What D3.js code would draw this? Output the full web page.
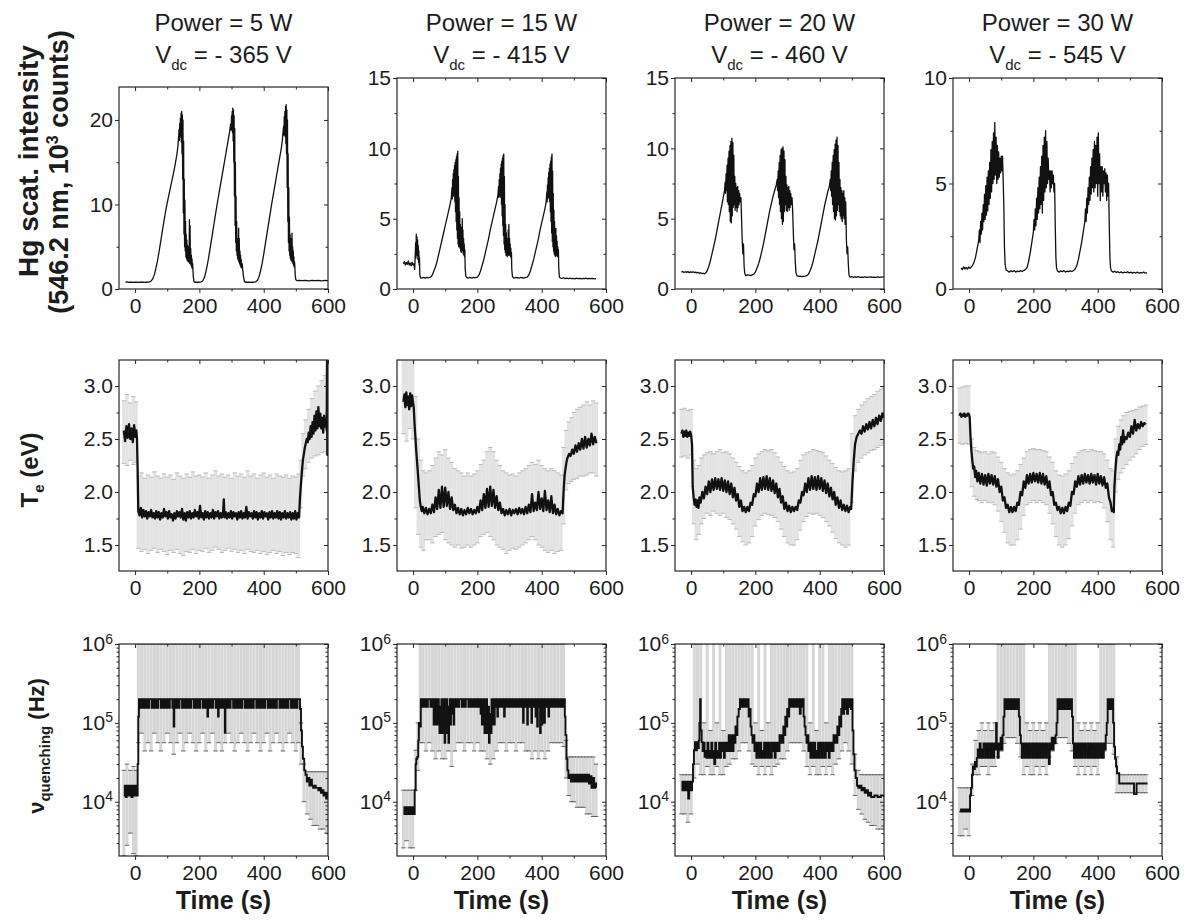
<!DOCTYPE html>
<html>
<head>
<meta charset="utf-8">
<script src="https://cdn.jsdelivr.net/npm/d3@7"></script>
<style>
  body { margin: 0; background: #fff; }
  svg text { font-family: "Liberation Sans", Arial, sans-serif; fill: #1c1c1c; }
</style>
</head>
<body>
<svg id="fig" width="1188" height="922"></svg>
<script>
// ---------- labels ----------
const powerTitles = ["Power = 5 W", "Power = 15 W", "Power = 20 W", "Power = 30 W"];
const vdcTitles = [" = - 365 V", " = - 415 V", " = - 460 V", " = - 545 V"];
const xTickValues = [0, 200, 400, 600];
const xMinorValues = [100, 300, 500];

// ---------- row 1: Hg scattered intensity (10^3 counts) ----------
const intensityMax = [23.9, 15, 15, 10];
const intensityTicks = [[0, 10, 20], [0, 5, 10, 15], [0, 5, 10, 15], [0, 5, 10]];
const intensityMinor = [[5, 15], [2.5, 7.5, 12.5], [2.5, 7.5, 12.5], [2.5, 7.5]];

const intensity5W = [[-30,0.8],[-25,0.85],[-20,0.78],[-15,0.82],[-10,0.8],[-5,0.78],[0,0.82],[5,0.8],[10,0.78],[15,0.8],[20,0.82],[25,0.8],[30,0.78],[35,0.8],[40,0.82],[45,0.85],[50,0.95],[55,1.2],[60,1.7],[65,2.5],[70,3.4],[75,4.5],[80,5.7],[85,6.9],[90,8.1],[95,9.2],[100,10.2],[105,11.1],[110,12.0],[115,12.9],[120,13.8],[125,14.8],[130,15.9],[133,16.8],[135,17.8],[137,18.9],[138,17.6],[139,19.6],[140,18.2],[141,20.2],[142,18.0],[143,20.8],[144,17.4],[145,21.0],[146,16.0],[147,20.6],[148,13.0],[149,20.0],[150,9.0],[151,17.5],[152,6.5],[153,13.0],[154,5.0],[155,10.5],[156,4.5],[157,8.0],[158,3.8],[159,6.5],[160,3.6],[161,5.8],[162,3.4],[163,5.2],[164,3.3],[165,4.8],[166,3.2],[167,5.0],[168,3.4],[169,8.2],[170,3.0],[171,7.5],[172,3.2],[173,4.8],[174,2.8],[175,4.0],[176,2.6],[177,3.6],[178,2.4],[179,3.0],[181,1.5],[183,0.9],[186,0.8],[190,0.8],[195,0.82],[200,0.8],[205,0.85],[210,0.95],[215,1.3],[220,2.0],[225,2.9],[230,4.0],[235,5.2],[240,6.4],[245,7.6],[250,8.8],[255,10.0],[260,11.1],[265,12.2],[270,13.3],[275,14.4],[280,15.5],[285,16.6],[290,17.7],[294,18.6],[297,19.5],[299,18.8],[300,20.5],[301,19.0],[302,21.0],[303,18.5],[304,21.4],[305,17.5],[306,21.2],[307,15.0],[308,20.5],[309,11.0],[310,19.0],[311,7.5],[312,15.0],[313,5.5],[314,11.0],[315,4.5],[316,8.0],[317,4.0],[318,6.0],[319,3.6],[320,5.2],[321,3.4],[322,7.2],[323,3.2],[324,6.0],[325,3.0],[326,4.5],[327,2.8],[328,4.0],[329,2.6],[330,3.5],[331,2.5],[333,3.0],[335,2.2],[337,1.5],[340,0.9],[343,0.8],[350,0.8],[355,0.82],[360,0.78],[365,0.8],[370,0.82],[375,0.85],[380,1.0],[385,1.4],[390,2.1],[395,3.0],[400,4.1],[405,5.3],[410,6.5],[415,7.7],[420,8.9],[425,10.1],[430,11.2],[435,12.3],[440,13.4],[445,14.5],[450,15.6],[455,16.7],[458,17.6],[460,18.5],[462,19.3],[463,18.2],[464,20.4],[465,18.8],[466,21.0],[467,18.0],[468,21.6],[469,17.2],[470,21.8],[471,16.0],[472,21.2],[473,12.0],[474,20.0],[475,8.0],[476,16.0],[477,5.5],[478,12.0],[479,4.5],[480,8.5],[481,4.0],[482,6.5],[483,3.6],[484,5.5],[485,3.4],[486,6.0],[487,3.3],[488,6.6],[489,3.2],[490,5.0],[491,3.0],[492,4.5],[493,2.8],[494,3.8],[495,2.6],[496,3.2],[497,2.6],[498,1.6],[500,1.1],[503,1.0],[510,1.02],[520,0.98],[530,1.03],[540,0.97],[550,1.02],[560,0.98],[570,1.03],[580,0.97],[590,1.01],[600,0.98]];

const intensity15W = [[-30,1.8],[-27,1.95],[-24,1.7],[-21,1.9],[-18,1.75],[-15,2.0],[-12,1.7],[-9,1.85],[-6,1.65],[-3,1.9],[0,1.7],[3,1.8],[5,1.4],[7,2.6],[8,3.3],[9,2.2],[10,3.9],[11,2.6],[12,3.7],[13,2.4],[14,3.5],[15,2.1],[16,3.1],[17,1.9],[18,2.7],[19,1.7],[20,2.2],[21,1.0],[23,0.8],[27,0.78],[31,0.82],[35,0.8],[39,0.78],[43,0.82],[47,0.8],[51,0.82],[55,0.85],[60,1.0],[65,1.3],[70,1.6],[75,2.0],[80,2.5],[85,3.0],[90,3.5],[95,4.0],[100,4.5],[105,5.0],[110,5.5],[115,6.0],[119,6.5],[121,7.2],[122,6.4],[123,7.8],[124,6.6],[125,8.2],[126,6.8],[127,8.5],[128,6.6],[129,8.8],[130,6.2],[131,9.0],[132,5.5],[133,9.2],[134,4.8],[135,9.4],[136,4.2],[137,9.6],[138,3.6],[139,9.8],[140,3.2],[141,8.0],[142,3.0],[143,6.5],[144,3.2],[145,5.5],[146,2.9],[147,4.6],[148,2.7],[149,4.0],[150,2.6],[151,4.4],[152,2.8],[153,5.0],[154,2.7],[155,4.2],[156,2.5],[157,3.6],[158,2.4],[159,3.2],[160,2.3],[161,2.8],[162,1.5],[164,0.9],[168,0.8],[172,0.78],[176,0.82],[180,0.8],[184,0.78],[188,0.82],[192,0.8],[196,0.82],[200,0.85],[205,1.0],[210,1.3],[215,1.7],[220,2.1],[225,2.6],[230,3.1],[235,3.6],[240,4.2],[245,4.7],[250,5.2],[255,5.7],[260,6.2],[264,6.7],[266,7.3],[267,6.5],[268,7.8],[269,6.6],[270,8.2],[271,6.8],[272,8.6],[273,6.5],[274,8.9],[275,6.0],[276,9.1],[277,5.2],[278,9.3],[279,4.5],[280,9.5],[281,3.8],[282,9.6],[283,3.2],[284,8.0],[285,2.8],[286,6.0],[287,2.6],[288,4.6],[289,2.4],[290,4.0],[291,2.5],[292,3.6],[293,2.3],[294,3.4],[295,2.5],[296,4.2],[297,2.4],[298,4.6],[299,2.6],[300,3.6],[301,2.4],[302,3.2],[303,2.3],[304,2.9],[305,2.2],[306,2.6],[307,1.4],[309,0.9],[312,0.8],[316,0.78],[320,0.82],[325,0.8],[330,0.78],[335,0.82],[340,0.8],[345,0.78],[350,0.82],[355,0.85],[360,1.0],[365,1.3],[370,1.7],[375,2.1],[380,2.6],[385,3.1],[390,3.6],[395,4.2],[400,4.7],[405,5.2],[410,5.7],[414,6.2],[416,6.9],[417,6.2],[418,7.4],[419,6.4],[420,7.9],[421,6.6],[422,8.3],[423,6.5],[424,8.6],[425,6.2],[426,8.9],[427,5.5],[428,9.1],[429,4.8],[430,9.4],[431,4.0],[432,9.6],[433,3.4],[434,8.4],[435,3.0],[436,6.8],[437,2.7],[438,5.6],[439,2.5],[440,4.8],[441,2.4],[442,4.0],[443,2.3],[444,4.3],[445,2.5],[446,3.8],[447,2.4],[448,3.4],[449,2.3],[450,3.0],[451,2.4],[452,2.8],[453,1.5],[455,0.85],[458,0.78],[463,0.76],[468,0.8],[473,0.74],[478,0.77],[483,0.73],[488,0.78],[493,0.74],[498,0.76],[503,0.72],[508,0.77],[513,0.74],[518,0.76],[523,0.72],[528,0.75],[533,0.73],[538,0.77],[543,0.72],[548,0.75],[553,0.73],[558,0.76],[563,0.72],[569,0.74]];

const intensity20W = [[-30,1.2],[-26,1.25],[-22,1.17],[-18,1.23],[-14,1.18],[-10,1.24],[-6,1.16],[-2,1.22],[2,1.18],[6,1.23],[10,1.17],[14,1.2],[18,1.15],[22,1.18],[26,1.12],[30,1.14],[34,1.1],[38,1.12],[42,1.08],[46,1.15],[50,1.3],[55,1.6],[60,2.0],[65,2.5],[70,3.0],[75,3.5],[80,4.1],[85,4.7],[90,5.3],[95,5.9],[100,6.5],[104,7.0],[106,7.6],[107,6.8],[109,8.2],[110,7.0],[112,8.8],[113,6.2],[115,9.3],[116,6.0],[118,9.8],[119,5.5],[121,10.2],[122,4.8],[124,10.5],[125,4.7],[127,10.7],[128,5.2],[130,10.4],[131,5.8],[133,9.5],[134,6.0],[136,8.0],[137,5.6],[139,7.5],[140,5.8],[142,7.2],[143,5.5],[145,7.3],[146,5.8],[148,7.0],[149,6.0],[151,6.8],[153,6.2],[155,6.5],[157,5.0],[159,3.5],[161,2.5],[163,3.2],[165,1.6],[167,1.1],[170,0.95],[175,1.0],[180,0.98],[185,0.95],[190,1.0],[195,1.05],[200,1.2],[205,1.5],[210,1.8],[215,2.2],[220,2.7],[225,3.2],[230,3.8],[235,4.4],[240,5.0],[245,5.6],[250,6.1],[255,6.6],[260,7.0],[265,7.4],[268,7.8],[269,7.0],[271,8.4],[272,6.5],[274,9.0],[275,6.0],[277,9.5],[278,5.5],[280,9.9],[281,5.0],[283,10.0],[284,4.6],[286,10.1],[287,4.8],[289,9.8],[290,5.5],[292,9.2],[293,6.0],[295,8.0],[296,5.6],[298,7.4],[299,5.5],[301,7.2],[302,5.8],[304,7.3],[305,5.6],[307,7.0],[308,5.8],[310,6.8],[312,6.0],[314,6.5],[316,5.5],[318,4.0],[320,2.8],[322,3.2],[324,2.0],[326,1.2],[329,0.95],[335,0.9],[340,0.92],[345,0.88],[350,0.9],[355,0.92],[360,0.95],[365,1.05],[370,1.3],[375,1.6],[380,2.0],[385,2.5],[390,3.0],[395,3.5],[400,4.1],[405,4.7],[410,5.3],[415,5.9],[420,6.4],[425,6.9],[430,7.3],[433,7.8],[434,7.0],[436,8.4],[437,6.6],[439,9.0],[440,6.0],[442,9.5],[443,5.5],[445,9.9],[446,5.0],[448,10.3],[449,4.9],[451,10.6],[452,5.2],[454,10.8],[455,5.6],[457,10.2],[458,6.0],[460,9.0],[461,5.5],[463,7.8],[464,5.2],[466,7.2],[467,5.0],[469,7.0],[470,4.8],[472,6.8],[473,5.2],[475,7.0],[476,5.0],[478,6.5],[479,4.6],[481,6.2],[483,3.5],[485,2.5],[487,3.0],[489,1.8],[491,1.0],[494,0.85],[500,0.88],[505,0.82],[510,0.86],[515,0.84],[520,0.88],[525,0.82],[530,0.85],[535,0.83],[540,0.87],[545,0.82],[550,0.85],[555,0.84],[560,0.86],[565,0.82],[570,0.85],[575,0.83],[580,0.86],[585,0.82],[590,0.85],[595,0.84],[600,0.86]];

const intensity30W = [[-25,1.0],[-21,0.92],[-17,1.05],[-13,0.95],[-9,1.02],[-5,0.94],[-1,1.04],[3,0.98],[7,1.05],[10,1.1],[15,1.25],[20,1.5],[25,1.9],[30,2.3],[32,2.8],[34,2.2],[36,3.2],[38,2.6],[40,3.6],[42,2.8],[44,4.0],[46,3.2],[48,4.5],[50,3.3],[52,4.9],[54,3.5],[56,5.3],[58,3.7],[60,5.6],[62,4.0],[64,6.0],[66,4.3],[68,6.6],[70,4.6],[72,7.0],[74,5.0],[76,7.4],[78,5.2],[80,7.9],[82,5.4],[84,7.2],[86,5.0],[88,6.8],[90,5.2],[92,6.5],[94,5.3],[96,6.2],[98,5.5],[100,6.3],[102,5.6],[104,6.3],[106,5.2],[108,4.0],[110,2.0],[112,1.2],[115,0.9],[120,0.85],[125,0.8],[130,0.86],[135,0.82],[140,0.88],[145,0.8],[150,0.85],[155,0.82],[160,0.87],[165,0.83],[170,0.88],[175,0.92],[180,1.0],[185,1.3],[190,1.7],[195,2.2],[200,2.7],[202,3.3],[204,2.8],[206,3.8],[208,3.0],[210,4.3],[212,3.3],[214,4.8],[216,3.6],[218,5.3],[220,3.8],[222,5.8],[224,4.0],[226,6.3],[228,3.6],[230,6.8],[232,4.2],[234,7.2],[236,4.6],[238,7.5],[240,4.8],[242,7.0],[244,5.0],[246,6.2],[248,5.2],[250,5.6],[252,4.6],[254,5.6],[256,4.8],[258,5.6],[260,5.0],[262,5.4],[264,4.6],[266,5.0],[268,3.0],[270,1.5],[272,1.0],[275,0.85],[280,0.8],[285,0.86],[290,0.82],[295,0.87],[300,0.8],[305,0.85],[310,0.82],[315,0.86],[320,0.83],[325,0.88],[330,0.95],[335,1.1],[340,1.4],[345,1.8],[350,2.2],[355,2.7],[360,3.2],[362,3.8],[364,3.2],[366,4.3],[368,3.6],[370,4.8],[372,4.0],[374,5.3],[376,4.2],[378,5.8],[380,4.5],[382,6.2],[384,4.8],[386,6.6],[388,4.6],[390,7.0],[392,4.8],[394,6.8],[396,5.0],[398,7.2],[400,4.4],[402,7.4],[404,5.0],[406,6.4],[408,4.2],[410,5.8],[412,4.6],[414,5.8],[416,4.4],[418,5.6],[420,5.0],[422,5.7],[424,4.6],[426,5.5],[428,4.2],[430,5.4],[432,4.4],[434,5.0],[436,3.0],[438,1.5],[440,1.0],[443,0.85],[448,0.8],[453,0.84],[458,0.78],[463,0.82],[468,0.77],[473,0.81],[478,0.76],[483,0.8],[488,0.77],[493,0.82],[498,0.76],[503,0.8],[508,0.75],[513,0.79],[518,0.76],[523,0.8],[528,0.75],[533,0.78],[538,0.76],[543,0.8],[548,0.75],[553,0.78]];

// ---------- row 2: electron temperature (eV) ----------
const teTicks = [1.5, 2.0, 2.5, 3.0];
const teMinor = [1.75, 2.25, 2.75];

const te5W = [[-35,2.58],[-31,2.48],[-27,2.62],[-23,2.51],[-19,2.64],[-15,2.50],[-11,2.60],[-7,2.47],[-3,2.63],[1,2.52],[4,2.58],[6,2.50],[8,2.2],[10,1.82],[14,1.78],[18,1.85],[22,1.76],[26,1.83],[30,1.77],[34,1.82],[38,1.75],[42,1.81],[46,1.77],[50,1.83],[54,1.76],[58,1.80],[62,1.75],[66,1.82],[70,1.76],[74,1.81],[78,1.74],[82,1.80],[86,1.76],[90,1.84],[94,1.77],[98,1.81],[102,1.75],[106,1.82],[110,1.76],[114,1.79],[118,1.73],[122,1.80],[126,1.75],[130,1.82],[134,1.77],[138,1.81],[142,1.76],[146,1.84],[150,1.74],[154,1.80],[158,1.73],[162,1.81],[166,1.76],[170,1.82],[174,1.75],[178,1.80],[182,1.76],[186,1.83],[190,1.77],[194,1.81],[198,1.75],[202,1.87],[206,1.76],[210,1.80],[214,1.74],[218,1.82],[222,1.76],[226,1.81],[230,1.75],[234,1.80],[238,1.76],[242,1.83],[246,1.75],[250,1.81],[254,1.77],[258,1.82],[262,1.75],[266,1.80],[270,1.76],[274,1.82],[276,1.93],[278,1.76],[282,1.81],[286,1.75],[290,1.80],[294,1.76],[298,1.82],[302,1.75],[306,1.81],[310,1.77],[314,1.80],[318,1.74],[322,1.81],[326,1.76],[330,1.82],[334,1.75],[338,1.80],[342,1.76],[346,1.86],[350,1.75],[354,1.81],[358,1.77],[362,1.80],[366,1.75],[370,1.82],[374,1.76],[378,1.81],[382,1.74],[386,1.80],[390,1.76],[394,1.82],[398,1.75],[402,1.81],[406,1.77],[410,1.80],[414,1.74],[418,1.81],[422,1.76],[426,1.82],[430,1.75],[434,1.80],[438,1.76],[442,1.82],[446,1.75],[450,1.81],[454,1.74],[458,1.80],[462,1.76],[466,1.82],[470,1.75],[474,1.80],[478,1.76],[482,1.81],[486,1.74],[490,1.80],[494,1.75],[498,1.82],[502,1.74],[506,1.80],[510,1.76],[513,1.95],[516,2.08],[519,2.2],[522,2.3],[525,2.36],[528,2.42],[531,2.46],[534,2.5],[537,2.47],[540,2.56],[543,2.5],[546,2.62],[549,2.52],[552,2.66],[555,2.55],[558,2.72],[561,2.58],[564,2.76],[567,2.6],[570,2.8],[573,2.62],[576,2.74],[579,2.6],[582,2.7],[585,2.56],[588,2.72],[591,2.62],[594,2.68],[596,2.58],[597,3.25],[598,2.35],[600,2.62]];
const te5WErr = [[-35,2.27,2.86],[-25,2.25,2.92],[-15,2.30,2.84],[-5,2.26,2.90],[3,2.28,2.85],[10,1.47,2.15],[20,1.44,2.18],[30,1.46,2.13],[40,1.42,2.16],[50,1.45,2.14],[60,1.47,2.19],[70,1.43,2.15],[80,1.46,2.13],[90,1.44,2.17],[100,1.41,2.14],[110,1.45,2.16],[120,1.43,2.12],[130,1.46,2.18],[140,1.42,2.15],[150,1.40,2.13],[160,1.44,2.17],[170,1.43,2.14],[180,1.46,2.19],[190,1.42,2.15],[200,1.45,2.16],[210,1.44,2.14],[220,1.47,2.18],[230,1.43,2.13],[240,1.45,2.16],[250,1.48,2.2],[260,1.46,2.15],[270,1.43,2.17],[280,1.45,2.14],[290,1.47,2.16],[300,1.44,2.13],[310,1.46,2.18],[320,1.43,2.15],[330,1.45,2.17],[340,1.42,2.14],[350,1.46,2.2],[360,1.44,2.15],[370,1.43,2.17],[380,1.45,2.13],[390,1.42,2.16],[400,1.44,2.18],[410,1.41,2.14],[420,1.43,2.16],[430,1.45,2.13],[440,1.42,2.17],[450,1.44,2.15],[460,1.40,2.14],[470,1.43,2.16],[480,1.41,2.13],[490,1.43,2.15],[500,1.42,2.14],[508,1.38,2.17],[515,1.85,2.3],[522,2.15,2.55],[530,2.22,2.68],[540,2.28,2.78],[550,2.32,2.88],[560,2.34,2.95],[570,2.35,3.0],[580,2.37,3.05],[590,2.38,3.1],[598,2.36,3.0]];

const te15W = [[-30,2.85],[-27,2.92],[-24,2.80],[-21,2.94],[-18,2.82],[-15,2.90],[-12,2.78],[-9,2.93],[-6,2.81],[-3,2.91],[0,2.84],[2,2.80],[5,2.62],[8,2.48],[10,2.38],[12,2.30],[15,2.18],[18,2.05],[21,1.92],[24,1.86],[27,1.82],[30,1.86],[35,1.80],[40,1.85],[45,1.79],[50,1.84],[55,1.80],[60,1.88],[65,1.81],[70,1.95],[75,1.84],[80,2.02],[85,1.85],[90,2.05],[95,1.86],[100,2.04],[105,1.87],[110,2.00],[115,1.84],[120,1.95],[125,1.83],[130,1.88],[135,1.80],[140,1.85],[145,1.79],[150,1.84],[155,1.78],[160,1.83],[165,1.79],[170,1.85],[175,1.80],[180,1.84],[185,1.79],[190,1.83],[195,1.80],[200,1.86],[205,1.81],[210,1.92],[215,1.83],[220,1.98],[225,1.85],[230,2.03],[235,1.86],[240,2.05],[245,1.87],[250,2.02],[255,1.85],[260,1.96],[265,1.83],[270,1.90],[275,1.80],[280,1.84],[285,1.78],[290,1.83],[295,1.79],[300,1.84],[305,1.78],[310,1.83],[315,1.80],[320,1.84],[325,1.79],[330,1.85],[335,1.80],[340,1.84],[345,1.79],[350,1.86],[355,1.80],[360,1.88],[365,1.81],[370,1.98],[375,1.82],[380,1.90],[385,1.83],[390,2.00],[395,1.84],[400,1.94],[405,1.82],[410,2.01],[415,1.83],[420,1.92],[425,1.81],[430,1.96],[435,1.80],[440,1.88],[445,1.79],[450,1.84],[455,1.78],[460,1.82],[465,1.80],[468,2.0],[471,2.15],[474,2.22],[477,2.28],[480,2.32],[485,2.36],[490,2.34],[495,2.40],[500,2.36],[505,2.44],[510,2.38],[515,2.46],[520,2.40],[525,2.50],[530,2.41],[535,2.52],[540,2.42],[545,2.50],[550,2.44],[555,2.55],[560,2.45],[565,2.52],[570,2.46]];
const te15WErr = [[-30,2.55,3.3],[-20,2.48,3.3],[-10,2.6,3.3],[-1,2.5,3.3],[8,1.85,2.9],[16,1.6,2.5],[24,1.48,2.3],[32,1.45,2.2],[40,1.55,2.18],[50,1.55,2.2],[60,1.52,2.25],[70,1.58,2.32],[80,1.6,2.38],[90,1.62,2.35],[100,1.55,2.4],[110,1.52,2.32],[120,1.5,2.28],[130,1.48,2.22],[140,1.5,2.2],[150,1.47,2.18],[160,1.48,2.15],[170,1.5,2.18],[180,1.48,2.15],[190,1.5,2.17],[200,1.52,2.2],[210,1.58,2.26],[220,1.6,2.3],[230,1.62,2.38],[240,1.58,2.42],[250,1.55,2.38],[260,1.5,2.3],[270,1.48,2.25],[280,1.46,2.2],[290,1.42,2.18],[300,1.45,2.16],[310,1.47,2.17],[320,1.46,2.15],[330,1.48,2.18],[340,1.5,2.2],[350,1.52,2.22],[360,1.55,2.25],[370,1.58,2.28],[380,1.55,2.26],[390,1.5,2.3],[400,1.48,2.25],[410,1.45,2.22],[420,1.43,2.2],[430,1.45,2.22],[440,1.42,2.2],[450,1.44,2.18],[460,1.45,2.16],[468,1.7,2.42],[476,2.02,2.58],[484,2.08,2.66],[492,2.1,2.7],[500,2.12,2.75],[510,2.13,2.78],[520,2.15,2.8],[530,2.15,2.82],[540,2.16,2.85],[550,2.18,2.82],[560,2.18,2.86],[570,2.15,2.84]];

const te20W = [[-30,2.55],[-27,2.58],[-24,2.52],[-21,2.57],[-18,2.53],[-15,2.58],[-12,2.52],[-9,2.56],[-6,2.53],[-3,2.57],[0,2.54],[3,2.45],[5,2.05],[8,1.95],[11,1.88],[14,1.93],[17,1.86],[20,1.92],[23,1.85],[26,1.95],[30,1.90],[35,2.00],[40,1.94],[45,2.05],[50,1.98],[55,2.10],[60,2.00],[65,2.12],[70,2.02],[75,2.13],[80,2.03],[85,2.12],[90,2.02],[95,2.13],[100,2.01],[105,2.11],[110,2.00],[115,2.10],[120,1.98],[125,2.08],[130,1.95],[135,2.04],[140,1.92],[145,1.98],[150,1.86],[155,1.92],[160,1.82],[165,1.86],[170,1.81],[175,1.86],[180,1.82],[185,1.90],[190,1.88],[195,1.98],[200,1.96],[205,2.08],[210,2.00],[215,2.13],[220,2.02],[225,2.14],[230,2.03],[235,2.15],[240,2.02],[245,2.13],[250,2.01],[255,2.11],[260,1.99],[265,2.08],[270,1.95],[275,2.03],[280,1.90],[285,1.96],[290,1.84],[295,1.90],[300,1.82],[305,1.87],[310,1.81],[315,1.86],[320,1.82],[325,1.86],[330,1.83],[335,1.92],[340,1.90],[345,2.00],[350,1.97],[355,2.08],[360,2.00],[365,2.13],[370,2.02],[375,2.15],[380,2.03],[385,2.14],[390,2.02],[395,2.15],[400,2.03],[405,2.13],[410,2.01],[415,2.11],[420,1.99],[425,2.08],[430,1.96],[435,2.04],[440,1.93],[445,2.00],[450,1.88],[455,1.95],[460,1.85],[465,1.92],[470,1.83],[475,1.88],[480,1.82],[485,1.87],[490,1.81],[495,1.86],[498,1.84],[502,2.1],[506,2.3],[510,2.45],[515,2.52],[520,2.55],[525,2.58],[530,2.55],[535,2.62],[540,2.57],[545,2.64],[550,2.59],[555,2.66],[560,2.60],[565,2.68],[570,2.62],[575,2.70],[580,2.64],[585,2.72],[590,2.67],[595,2.74],[600,2.70]];
const te20WErr = [[-30,2.33,2.78],[-20,2.34,2.79],[-10,2.32,2.77],[0,2.35,2.78],[8,1.7,2.3],[16,1.55,2.22],[24,1.6,2.25],[32,1.7,2.32],[40,1.75,2.35],[50,1.8,2.37],[60,1.78,2.38],[70,1.82,2.36],[80,1.8,2.38],[90,1.78,2.4],[100,1.8,2.37],[110,1.76,2.38],[120,1.74,2.36],[130,1.7,2.32],[140,1.65,2.28],[150,1.58,2.24],[160,1.53,2.2],[170,1.5,2.18],[180,1.52,2.2],[190,1.58,2.25],[200,1.68,2.32],[210,1.74,2.36],[220,1.78,2.38],[230,1.8,2.4],[240,1.79,2.39],[250,1.78,2.4],[260,1.76,2.37],[270,1.72,2.33],[280,1.65,2.28],[290,1.58,2.24],[300,1.52,2.2],[310,1.5,2.18],[320,1.5,2.19],[330,1.55,2.22],[340,1.64,2.3],[350,1.72,2.35],[360,1.77,2.37],[370,1.8,2.38],[380,1.79,2.4],[390,1.8,2.39],[400,1.78,2.38],[410,1.76,2.37],[420,1.72,2.34],[430,1.68,2.3],[440,1.62,2.27],[450,1.56,2.23],[460,1.52,2.2],[470,1.5,2.19],[480,1.48,2.2],[490,1.5,2.22],[500,1.9,2.55],[510,2.2,2.72],[520,2.28,2.78],[530,2.32,2.82],[540,2.35,2.85],[550,2.37,2.88],[560,2.39,2.9],[570,2.4,2.92],[580,2.42,2.95],[590,2.44,2.97],[600,2.46,2.98]];

const te30W = [[-30,2.72],[-27,2.74],[-24,2.71],[-21,2.73],[-18,2.72],[-15,2.74],[-12,2.71],[-9,2.73],[-6,2.72],[-3,2.74],[0,2.73],[2,2.70],[4,2.55],[7,2.40],[10,2.30],[13,2.22],[16,2.24],[19,2.14],[22,2.20],[26,2.10],[30,2.18],[35,2.08],[40,2.17],[45,2.07],[50,2.16],[55,2.06],[60,2.17],[65,2.08],[70,2.16],[75,2.07],[80,2.15],[85,2.05],[90,2.12],[95,2.00],[100,2.05],[105,1.92],[110,1.95],[115,1.85],[120,1.88],[125,1.81],[130,1.86],[135,1.81],[140,1.86],[145,1.82],[150,1.90],[155,1.88],[160,2.00],[165,1.97],[170,2.10],[175,2.04],[180,2.16],[185,2.08],[190,2.17],[195,2.09],[200,2.18],[205,2.10],[210,2.17],[215,2.09],[220,2.18],[225,2.08],[230,2.17],[235,2.07],[240,2.15],[245,2.04],[250,2.10],[255,1.97],[260,2.00],[265,1.88],[270,1.90],[275,1.83],[280,1.86],[285,1.80],[290,1.85],[295,1.80],[300,1.86],[305,1.82],[310,1.90],[315,1.87],[320,2.00],[325,1.98],[330,2.10],[335,2.05],[340,2.15],[345,2.07],[350,2.16],[355,2.08],[360,2.17],[365,2.09],[370,2.16],[375,2.08],[380,2.17],[385,2.09],[390,2.16],[395,2.07],[400,2.17],[405,2.08],[410,2.15],[415,2.06],[420,2.14],[425,2.04],[430,2.08],[435,1.95],[440,1.90],[444,1.82],[448,1.84],[450,1.81],[452,2.05],[455,2.2],[458,2.32],[461,2.38],[464,2.35],[467,2.45],[470,2.40],[473,2.52],[476,2.45],[479,2.58],[482,2.47],[485,2.52],[490,2.50],[495,2.56],[500,2.52],[505,2.62],[510,2.55],[515,2.68],[520,2.58],[525,2.64],[530,2.60],[535,2.66],[540,2.62],[545,2.65],[550,2.64]];
const te30WErr = [[-30,2.46,2.98],[-20,2.45,2.99],[-10,2.46,3.0],[-1,2.45,3.0],[8,2.05,2.5],[16,1.96,2.42],[24,1.93,2.39],[32,1.92,2.38],[40,1.9,2.37],[50,1.92,2.38],[60,1.9,2.36],[70,1.9,2.38],[80,1.88,2.37],[90,1.82,2.33],[100,1.72,2.28],[110,1.62,2.22],[120,1.52,2.18],[130,1.5,2.16],[140,1.5,2.17],[150,1.55,2.2],[160,1.65,2.26],[170,1.78,2.32],[180,1.88,2.38],[190,1.9,2.4],[200,1.92,2.41],[210,1.9,2.4],[220,1.92,2.4],[230,1.9,2.39],[240,1.88,2.38],[250,1.8,2.33],[260,1.7,2.28],[270,1.58,2.2],[280,1.5,2.16],[290,1.48,2.15],[300,1.5,2.17],[310,1.56,2.2],[320,1.68,2.27],[330,1.8,2.33],[340,1.88,2.37],[350,1.9,2.39],[360,1.92,2.4],[370,1.9,2.38],[380,1.92,2.4],[390,1.9,2.39],[400,1.91,2.38],[410,1.9,2.38],[420,1.85,2.36],[430,1.72,2.3],[440,1.55,2.22],[448,1.48,2.2],[456,2.0,2.5],[464,2.12,2.62],[472,2.18,2.68],[480,2.22,2.72],[490,2.26,2.75],[500,2.3,2.76],[510,2.33,2.77],[520,2.36,2.78],[530,2.4,2.8],[540,2.43,2.81],[550,2.45,2.82]];

// ---------- row 3: quenching frequency (Hz) ----------
const nuTicks = [1e4, 1e5, 1e6];
const nuMinor = [3e3,4e3,5e3,6e3,7e3,8e3,9e3,2e4,3e4,4e4,5e4,6e4,7e4,8e4,9e4,2e5,3e5,4e5,5e5,6e5,7e5,8e5,9e5];

const nu5W = [[-35,1.2e4],[-32,1.6e4],[-29,1.15e4],[-26,1.6e4],[-23,1.2e4],[-20,1.6e4],[-17,1.2e4],[-14,1.6e4],[-11,1.15e4],[-8,1.6e4],[-5,1.2e4],[-2,1.6e4],[1,1.2e4],[4,1.6e4],[6,1.2e4],[8,3e4],[10,1.2e5],[12,2e5],[15,1.55e5],[18,2e5],[20,2e5],[24,1.55e5],[28,2e5],[32,1.55e5],[36,2e5],[40,1.55e5],[44,2e5],[48,2e5],[52,1.55e5],[56,2e5],[60,1.55e5],[64,2e5],[68,1.55e5],[72,2e5],[76,2e5],[80,1.55e5],[84,2e5],[88,1.55e5],[92,2e5],[96,1.55e5],[100,2e5],[104,1.55e5],[108,2e5],[112,2e5],[116,1.55e5],[120,9e4],[122,2e5],[126,1.55e5],[130,2e5],[134,1.55e5],[138,2e5],[142,2e5],[146,1.55e5],[150,2e5],[154,1.55e5],[158,2e5],[162,1.55e5],[166,2e5],[170,1.55e5],[174,2e5],[178,2e5],[182,1.55e5],[186,2e5],[190,1.55e5],[194,2e5],[198,1.55e5],[202,2e5],[206,2e5],[210,1.55e5],[214,2e5],[218,1.55e5],[222,2e5],[225,1.2e5],[227,2e5],[231,1.55e5],[235,2e5],[239,1.55e5],[243,2e5],[247,2e5],[251,1.55e5],[255,2e5],[258,1.2e5],[260,2e5],[264,1.55e5],[268,2e5],[272,1.55e5],[276,2e5],[279,7.5e4],[281,2e5],[285,1.55e5],[289,2e5],[293,1.55e5],[297,2e5],[301,2e5],[305,1.55e5],[309,2e5],[313,1.55e5],[317,2e5],[321,1.55e5],[325,2e5],[329,1.55e5],[333,2e5],[337,2e5],[341,1.55e5],[345,2e5],[349,1.55e5],[353,2e5],[357,1.55e5],[361,2e5],[365,1.55e5],[369,2e5],[373,2e5],[377,1.55e5],[381,2e5],[385,1.55e5],[389,2e5],[393,1.55e5],[397,2e5],[401,1.55e5],[405,2e5],[409,2e5],[413,1.55e5],[417,2e5],[421,1.55e5],[425,2e5],[429,1.55e5],[433,2e5],[437,1.55e5],[441,2e5],[445,2e5],[449,1.55e5],[453,2e5],[457,1.55e5],[461,2e5],[465,1.55e5],[469,2e5],[473,1.55e5],[477,2e5],[481,2e5],[485,1.55e5],[489,2e5],[493,1.55e5],[497,2e5],[501,1.55e5],[505,2e5],[510,2e5],[513,1.5e5],[516,8e4],[519,5e4],[522,3.5e4],[526,2.5e4],[530,2.2e4],[534,1.8e4],[538,2e4],[542,1.6e4],[546,1.9e4],[550,1.6e4],[554,1.5e4],[558,1.6e4],[562,1.5e4],[566,1.5e4],[570,1.4e4],[574,1.5e4],[578,1.3e4],[582,1.4e4],[586,1.2e4],[590,1.3e4],[594,1.1e4],[597,1.3e4],[600,1.2e4]];
const nu5WErr = [[-35,2.06e3,2.5e4],[-25,2.8e3,3e4],[-15,4e3,2.5e4],[-5,2.2e3,2.8e4],[3,2.06e3,2.5e4],[10,5.6e4,1e6],[20,7.4e4,1e6],[30,4.4e4,1e6],[40,5.6e4,1e6],[50,4.4e4,1e6],[60,7.4e4,1e6],[70,5.6e4,1e6],[80,4.4e4,1e6],[90,5.6e4,1e6],[100,7.4e4,1e6],[110,5.6e4,1e6],[120,4e4,1e6],[130,5.6e4,1e6],[140,7.4e4,1e6],[150,4.4e4,1e6],[160,5.6e4,1e6],[170,7.4e4,1e6],[180,5.6e4,1e6],[190,4.4e4,1e6],[200,5.6e4,1e6],[210,7.4e4,1e6],[220,4.4e4,1e6],[230,5.6e4,1e6],[240,7.4e4,1e6],[250,4.4e4,1e6],[260,5.6e4,1e6],[270,4.4e4,1e6],[280,5.6e4,1e6],[290,7.4e4,1e6],[300,5.6e4,1e6],[310,4.4e4,1e6],[320,5.6e4,1e6],[330,7.4e4,1e6],[340,5.6e4,1e6],[350,4.4e4,1e6],[360,5.6e4,1e6],[370,7.4e4,1e6],[380,5.6e4,1e6],[390,4.4e4,1e6],[400,5.6e4,1e6],[410,7.4e4,1e6],[420,4.4e4,1e6],[430,5.6e4,1e6],[440,7.4e4,1e6],[450,5.6e4,1e6],[460,4.4e4,1e6],[470,5.6e4,1e6],[480,7.4e4,1e6],[490,5.6e4,1e6],[500,4.4e4,1e6],[508,5.6e4,1e6],[516,3e4,1e5],[525,1e4,3e4],[535,7e3,2.4e4],[545,6e3,2.4e4],[555,5e3,2.4e4],[565,5e3,2.4e4],[575,4.5e3,2.4e4],[585,4.5e3,2.4e4],[595,4e3,2.4e4]];

const nu15W = [[-30,7e3],[-27,8.5e3],[-24,7e3],[-21,8.5e3],[-18,7e3],[-15,8.5e3],[-12,7e3],[-9,8.5e3],[-6,7e3],[-3,8.5e3],[0,7e3],[2,7e3],[5,1.4e4],[8,3e4],[10,3.5e4],[13,3.7e4],[16,6e4],[18,1e5],[21,9e4],[24,2e5],[27,1.6e5],[30,2e5],[34,1.6e5],[38,2e5],[42,1.6e5],[46,2e5],[50,2e5],[54,1.6e5],[58,2e5],[62,1.6e5],[64,9.5e4],[66,2e5],[68,1.3e5],[70,9.5e4],[72,2e5],[74,9.5e4],[76,1.3e5],[78,2e5],[80,9.5e4],[82,7.4e4],[84,1.6e5],[86,9.5e4],[88,2e5],[90,7.4e4],[92,1.3e5],[94,9.5e4],[96,2e5],[98,5.6e4],[100,1.3e5],[102,9.5e4],[104,2e5],[106,7.4e4],[108,1.6e5],[110,5.6e4],[112,9.5e4],[114,2e5],[116,9.5e4],[118,1.6e5],[120,2e5],[122,1.3e5],[124,2e5],[126,9.5e4],[128,2e5],[132,1.6e5],[136,2e5],[140,1.6e5],[144,2e5],[148,2e5],[152,1.6e5],[156,2e5],[160,1.6e5],[164,2e5],[168,2e5],[172,1.6e5],[176,2e5],[180,1.6e5],[184,2e5],[188,1.6e5],[192,2e5],[196,1.6e5],[200,2e5],[204,1.6e5],[208,2e5],[210,1.3e5],[212,2e5],[214,9.5e4],[216,1.6e5],[218,9.5e4],[220,2e5],[222,7.4e4],[224,1.3e5],[226,9.5e4],[228,2e5],[230,7.4e4],[232,9.5e4],[234,1.6e5],[236,5.6e4],[238,9.5e4],[240,1.3e5],[242,7.4e4],[244,2e5],[246,9.5e4],[248,1.6e5],[250,2e5],[252,9.5e4],[254,2e5],[256,1.6e5],[260,2e5],[262,1.2e5],[264,2e5],[268,1.6e5],[272,2e5],[276,1.6e5],[280,2e5],[283,1.2e5],[285,2e5],[289,1.6e5],[293,2e5],[297,1.6e5],[301,2e5],[305,1.6e5],[309,2e5],[313,1.6e5],[317,2e5],[321,1.6e5],[325,2e5],[329,1.6e5],[333,2e5],[337,1.6e5],[340,2e5],[342,1e5],[344,2e5],[348,1.6e5],[352,2e5],[355,9.5e4],[357,2e5],[361,1.6e5],[365,2e5],[368,1e5],[370,2e5],[374,1.6e5],[378,2e5],[381,1.2e5],[383,2e5],[386,9e4],[388,2e5],[392,1.6e5],[395,7.4e4],[397,2e5],[400,9.5e4],[402,2e5],[405,1.6e5],[408,1e5],[410,2e5],[414,1.6e5],[418,2e5],[421,1.2e5],[423,2e5],[427,1.6e5],[431,2e5],[435,1.6e5],[439,2e5],[443,1.6e5],[447,2e5],[451,1.6e5],[455,2e5],[459,1.6e5],[463,2e5],[467,1.6e5],[470,2e5],[472,1.2e5],[474,7e4],[477,3.5e4],[480,2.5e4],[483,2e4],[487,2.2e4],[491,1.8e4],[495,2.2e4],[499,1.8e4],[503,2.2e4],[507,1.8e4],[511,2.2e4],[515,1.8e4],[519,2.2e4],[523,1.8e4],[527,2.2e4],[531,1.8e4],[535,2.2e4],[539,1.8e4],[543,2.2e4],[547,1.7e4],[551,2.1e4],[555,1.5e4],[559,2e4],[563,1.5e4],[566,1.7e4],[569,1.5e4]];
const nu15WErr = [[-30,2.6e3,1.4e4],[-20,3.2e3,1.4e4],[-10,2.6e3,1.4e4],[-1,2.6e3,1.4e4],[8,1.4e4,4.5e4],[15,2.5e4,1e5],[22,5.6e4,1e6],[30,5.6e4,1e6],[40,4.4e4,1e6],[50,5.6e4,1e6],[60,4.4e4,1e6],[70,3.5e4,1e6],[80,4.4e4,1e6],[90,3.5e4,1e6],[100,3.5e4,1e6],[110,4.4e4,1e6],[120,2.8e4,1e6],[130,4.4e4,1e6],[140,5.6e4,1e6],[150,5.6e4,1e6],[160,4.4e4,1e6],[170,5.6e4,1e6],[180,5.6e4,1e6],[190,4.4e4,1e6],[200,5.6e4,1e6],[210,4.4e4,1e6],[220,4.4e4,1e6],[230,3.5e4,1e6],[240,3e4,1e6],[250,3.5e4,1e6],[260,4.4e4,1e6],[270,5.6e4,1e6],[280,5.6e4,1e6],[290,4.4e4,1e6],[300,5.6e4,1e6],[310,5.6e4,1e6],[320,4.4e4,1e6],[330,5.6e4,1e6],[340,5.6e4,1e6],[350,4.4e4,1e6],[360,4.4e4,1e6],[370,3.5e4,1e6],[380,4.4e4,1e6],[390,3.5e4,1e6],[400,4.4e4,1e6],[410,3.5e4,1e6],[420,4.4e4,1e6],[430,5.6e4,1e6],[440,5.6e4,1e6],[450,5.6e4,1e6],[460,5.6e4,1e6],[468,5e4,1e6],[476,2e4,6e4],[484,1.2e4,3.7e4],[492,1e4,3.7e4],[500,1e4,3.7e4],[510,8.5e3,3.7e4],[520,8.5e3,3.7e4],[530,8.5e3,3.7e4],[540,7e3,3.7e4],[550,7e3,3.7e4],[560,6.5e3,3.7e4],[569,6.5e3,3e4]];

const nu20W = [[-30,1.4e4],[-27,1.8e4],[-24,1.4e4],[-21,1.8e4],[-18,1.4e4],[-15,1.8e4],[-12,1.4e4],[-9,1.1e4],[-6,1.8e4],[-3,1.4e4],[0,1.4e4],[3,1.8e4],[6,3e4],[9,4.5e4],[12,5.7e4],[15,4.5e4],[18,5.7e4],[21,4.8e4],[24,6e4],[26,1e5],[28,2e5],[30,8e4],[33,5.7e4],[36,4.4e4],[39,5.6e4],[42,3.7e4],[45,4.4e4],[48,3.6e4],[51,5.6e4],[54,3.6e4],[57,4.4e4],[60,3.6e4],[63,5.6e4],[66,3.6e4],[69,4.4e4],[72,3e4],[75,5.6e4],[78,3.6e4],[81,4.4e4],[84,3.6e4],[87,5.6e4],[90,3.6e4],[93,5.6e4],[96,4.4e4],[99,5.6e4],[102,3.6e4],[105,5.6e4],[108,4.4e4],[111,5.6e4],[114,4.4e4],[117,7e4],[120,4.4e4],[123,5.6e4],[126,7e4],[129,4.4e4],[132,7e4],[135,5.6e4],[138,9e4],[141,7e4],[144,1.2e5],[148,1.5e5],[152,2e5],[155,1.6e5],[158,2e5],[161,1.6e5],[164,2e5],[167,1.6e5],[170,2e5],[173,1.6e5],[176,2e5],[179,1.2e5],[182,1.5e5],[185,9e4],[188,7e4],[191,5.6e4],[194,7e4],[197,4.4e4],[200,5.6e4],[203,3.6e4],[206,5.6e4],[209,4.4e4],[212,3.6e4],[215,5.6e4],[218,3.6e4],[221,4.4e4],[224,3.6e4],[227,5.6e4],[230,3.6e4],[233,4.4e4],[236,5.6e4],[239,3.6e4],[242,5.6e4],[245,4.4e4],[248,3.6e4],[251,5.6e4],[254,4.4e4],[257,5.6e4],[260,3.6e4],[263,5.6e4],[266,4.4e4],[269,5.6e4],[272,4.4e4],[275,7e4],[278,5.6e4],[281,7e4],[284,5.6e4],[287,9e4],[290,7e4],[293,1.2e5],[296,9e4],[299,1.5e5],[302,1.2e5],[305,2e5],[308,1.6e5],[311,2e5],[314,1.6e5],[317,2e5],[320,1.6e5],[323,2e5],[326,1.6e5],[329,2e5],[332,1.6e5],[335,2e5],[338,1.3e5],[341,2e5],[344,1.6e5],[347,2e5],[350,1.2e5],[353,9e4],[356,7e4],[359,5.6e4],[362,7e4],[365,4.4e4],[368,5.6e4],[371,3.6e4],[374,5.6e4],[377,4.4e4],[380,3.6e4],[383,5.6e4],[386,3.6e4],[389,4.4e4],[392,3.6e4],[395,5.6e4],[398,3.6e4],[401,4.4e4],[404,5.6e4],[407,3.6e4],[410,5.6e4],[413,4.4e4],[416,3.6e4],[419,5.6e4],[422,4.4e4],[425,5.6e4],[428,3.6e4],[431,5.6e4],[434,4.4e4],[437,5.6e4],[440,4.4e4],[443,7e4],[446,5.6e4],[449,7e4],[452,5.6e4],[455,9e4],[458,7e4],[461,1.2e5],[464,9e4],[467,1.5e5],[470,2e5],[473,1.3e5],[476,2e5],[479,1.5e5],[482,2e5],[485,1.3e5],[488,2e5],[491,1.6e5],[494,2e5],[497,1.5e5],[499,2e5],[502,8e4],[505,4e4],[508,2.5e4],[512,2e4],[516,1.6e4],[520,1.5e4],[525,1.6e4],[530,1.4e4],[535,1.5e4],[540,1.3e4],[545,1.4e4],[550,1.2e4],[555,1.3e4],[560,1.15e4],[570,1.2e4],[580,1.15e4],[590,1.2e4],[600,1.15e4]];
const nu20WErr = [[-30,7e3,2.2e4],[-20,7e3,2.2e4],[-10,5.5e3,2.2e4],[0,7e3,2.2e4],[10,2e4,1e6],[20,3e4,1e6],[30,2.2e4,1e6],[40,2.2e4,1e5],[50,2.8e4,1e6],[60,2.2e4,8e4],[70,2.2e4,1e6],[80,2.8e4,1e5],[90,2.2e4,1e6],[100,2.2e4,8e4],[110,2.8e4,1e6],[120,3e4,1e6],[130,3.5e4,1e6],[140,3.5e4,1e6],[150,4.4e4,1e6],[160,5.6e4,1e6],[170,5.6e4,1e6],[180,4.4e4,1e6],[190,3e4,1e6],[200,2.8e4,1e5],[210,2.2e4,1e6],[220,2.8e4,8e4],[230,2.2e4,1e6],[240,2.8e4,1e5],[250,2.2e4,1e6],[260,2.8e4,1e6],[270,3e4,1e6],[280,3.5e4,1e6],[290,3.5e4,1e6],[300,4.4e4,1e6],[310,5.6e4,1e6],[320,5.6e4,1e6],[330,5.6e4,1e6],[340,5.6e4,1e6],[350,4.4e4,1e6],[360,2.8e4,1e6],[370,2.2e4,1e5],[380,2.8e4,1e6],[390,2.2e4,8e4],[400,2.2e4,1e6],[410,2.8e4,1e6],[420,2.2e4,1e5],[430,2.8e4,1e6],[440,2.2e4,1e6],[450,3e4,1e6],[460,3.5e4,1e6],[470,4.4e4,1e6],[480,5.6e4,1e6],[490,4.4e4,1e6],[500,3e4,1e6],[510,1.2e4,4e4],[520,8e3,2.5e4],[530,7e3,2.2e4],[540,6e3,2.2e4],[550,5.5e3,2.2e4],[560,5e3,2.2e4],[570,5e3,2.2e4],[580,4.5e3,2.2e4],[590,4.5e3,2.2e4],[600,4.5e3,2.2e4]];

const nu30W = [[-30,7.5e3],[-25,8e3],[-20,7.5e3],[-15,8e3],[-10,7.5e3],[-5,8e3],[0,7.5e3],[3,1.2e4],[6,1.5e4],[9,2.2e4],[12,2.8e4],[15,2.6e4],[18,3.2e4],[21,2.8e4],[24,3.6e4],[27,4.6e4],[30,3.6e4],[33,5.5e4],[36,3.6e4],[39,4.6e4],[42,3.6e4],[45,5.5e4],[48,4.6e4],[51,3.6e4],[54,5.5e4],[57,3.6e4],[60,4.6e4],[63,5.5e4],[66,3.6e4],[69,5.5e4],[72,4.6e4],[75,3.6e4],[78,5.5e4],[81,4.6e4],[84,1e5],[86,5.5e4],[89,3.6e4],[92,5.5e4],[95,4.6e4],[98,6.5e4],[101,4.6e4],[104,7e4],[107,1.2e5],[110,2e5],[113,1.5e5],[116,2e5],[119,1.5e5],[122,2e5],[125,1.5e5],[128,2e5],[131,1.5e5],[134,2e5],[137,1.5e5],[140,2e5],[143,1.5e5],[146,2e5],[149,1.5e5],[152,2e5],[155,1.2e5],[158,7e4],[161,5.5e4],[164,3.6e4],[167,5.5e4],[170,4.6e4],[173,3.6e4],[176,5.5e4],[179,4.6e4],[182,3.6e4],[185,5.5e4],[188,3.6e4],[191,4.6e4],[194,5.5e4],[197,3.6e4],[200,5.5e4],[203,4.6e4],[206,3.6e4],[209,5.5e4],[212,3.6e4],[215,4.6e4],[218,5.5e4],[221,3.6e4],[224,5.5e4],[227,4.6e4],[230,3.6e4],[233,5.5e4],[236,4.6e4],[239,3.6e4],[242,5.5e4],[245,4.6e4],[248,3e4],[251,5.5e4],[254,4.6e4],[257,6.5e4],[260,4.6e4],[263,6.5e4],[266,5.5e4],[269,7e4],[272,1e5],[275,2e5],[278,1.5e5],[281,2e5],[284,1.5e5],[287,2e5],[290,1.5e5],[293,2e5],[296,1.5e5],[299,2e5],[302,1.5e5],[305,2e5],[308,1.5e5],[311,2e5],[314,1.5e5],[317,2e5],[320,1.2e5],[323,5.5e4],[326,3.6e4],[329,5.5e4],[332,4.6e4],[335,3.6e4],[338,5.5e4],[341,4.6e4],[344,3.6e4],[347,5.5e4],[350,3.6e4],[353,4.6e4],[356,5.5e4],[359,3.6e4],[362,5.5e4],[365,4.6e4],[368,3.6e4],[371,5.5e4],[374,3.6e4],[377,4.6e4],[380,5.5e4],[383,3.6e4],[386,5.5e4],[389,4.6e4],[392,3.6e4],[395,5.5e4],[398,4.6e4],[401,3.6e4],[404,5.5e4],[407,4.6e4],[410,3.6e4],[413,5.5e4],[416,3.6e4],[419,5.5e4],[422,4.6e4],[425,7e4],[428,1e5],[431,2e5],[434,1.5e5],[437,2e5],[440,1.5e5],[443,2e5],[446,2e5],[448,1e5],[451,5e4],[454,3.5e4],[457,2.8e4],[460,2.3e4],[464,2.3e4],[467,1.7e4],[480,1.7e4],[495,1.7e4],[512,1.7e4],[513,1.25e4],[520,1.25e4],[521,1.7e4],[535,1.7e4],[555,1.7e4]];
const nu30WErr = [[-30,3.7e3,1.5e4],[-20,3.7e3,1.5e4],[-10,4.5e3,1.5e4],[-1,3.7e3,1.5e4],[10,1.2e4,3e4],[20,2.2e4,6e4],[30,2.2e4,8e4],[40,2.8e4,1e5],[50,2.8e4,8e4],[60,2.2e4,1e5],[70,2.8e4,8e4],[80,2.8e4,1e5],[90,3.7e4,1e6],[100,4.4e4,1e6],[110,5.5e4,1e6],[120,6.5e4,1e6],[130,6.5e4,1e6],[140,6.5e4,1e6],[150,5.5e4,1e6],[160,3.7e4,1e6],[170,2.2e4,1e6],[180,2.8e4,1e5],[190,2.2e4,8e4],[200,2.2e4,1e5],[210,2.8e4,8e4],[220,2.2e4,1e5],[230,2.8e4,8e4],[240,2.2e4,1e5],[250,3.7e4,1e6],[260,4.4e4,1e6],[270,5.5e4,1e6],[280,6.5e4,1e6],[290,6.5e4,1e6],[300,6.5e4,1e6],[310,5.5e4,1e6],[320,4.4e4,1e6],[330,2.8e4,1e6],[340,2.2e4,1e5],[350,2.8e4,8e4],[360,2.2e4,1e5],[370,2.8e4,8e4],[380,2.2e4,1e5],[390,2.8e4,8e4],[400,2.2e4,1e5],[410,3.7e4,1e6],[420,4.4e4,1e6],[430,5.5e4,1e6],[440,5.5e4,1e6],[450,4e4,1e6],[460,1.3e4,3.7e4],[470,1.3e4,2.2e4],[480,1.3e4,2.2e4],[490,1.3e4,2.2e4],[500,1.3e4,2.2e4],[510,1.3e4,2.2e4],[520,1.3e4,2.2e4],[530,1.3e4,2.2e4],[540,1.3e4,2.2e4],[550,1.3e4,2.2e4]];

// ---------- layout ----------
const svg = d3.select("#fig");
const defs = svg.append("defs");
const W = 209;
const colX = [119, 397, 675, 953];
const rows = [{ top: 78, h: 211 }, { top: 360, h: 211 }, { top: 644, h: 212 }];
const x = d3.scaleLinear().domain([-50, 600]).range([0, W]);
const AX = "#262626";
const TICK_FONT = "21px";

function makePanel(row, col) {
  const top = (row === 0 && col === 0) ? 87 : rows[row].top;
  const h = (row === 0 && col === 0) ? 202 : rows[row].h;
  const g = svg.append("g").attr("transform", `translate(${colX[col]},${top})`);
  const id = `clip-${row}-${col}`;
  defs.append("clipPath").attr("id", id).append("rect").attr("width", W).attr("height", h);
  const plot = g.append("g").attr("clip-path", `url(#${id})`);
  return { g, plot, h };
}

function styleAxis(sel) {
  sel.select(".domain").remove();
  sel.selectAll(".tick line").attr("stroke", AX).attr("stroke-width", 1);
  sel.selectAll(".tick text").attr("font-size", TICK_FONT).attr("fill", "#1c1c1c")
    .attr("font-family", "'Liberation Sans', Arial, sans-serif");
}

function drawAxes(p, y, yMajor, yMinor, yFormat, logLabels) {
  const { g, h } = p;
  // bottom (outward) with labels
  g.append("g").attr("transform", `translate(0,${h})`)
    .call(d3.axisBottom(x).tickValues(xTickValues).tickSize(4).tickPadding(5).tickFormat(d3.format("d")))
    .call(styleAxis);
  g.append("g").attr("transform", `translate(0,${h})`)
    .call(d3.axisBottom(x).tickValues(xMinorValues).tickSize(2.5).tickFormat(""))
    .call(styleAxis);
  // top (inward) mirror
  g.append("g").call(d3.axisBottom(x).tickValues(xTickValues).tickSize(4).tickFormat("")).call(styleAxis);
  g.append("g").call(d3.axisBottom(x).tickValues(xMinorValues).tickSize(2.5).tickFormat("")).call(styleAxis);
  // left (outward)
  const left = g.append("g")
    .call(d3.axisLeft(y).tickValues(yMajor).tickSize(4).tickPadding(2).tickFormat(yFormat))
    .call(styleAxis);
  g.append("g").call(d3.axisLeft(y).tickValues(yMinor).tickSize(2.5).tickFormat("")).call(styleAxis);
  // right (inward) mirror
  g.append("g").attr("transform", `translate(${W},0)`)
    .call(d3.axisLeft(y).tickValues(yMajor).tickSize(4).tickFormat("")).call(styleAxis);
  g.append("g").attr("transform", `translate(${W},0)`)
    .call(d3.axisLeft(y).tickValues(yMinor).tickSize(2.5).tickFormat("")).call(styleAxis);
  if (logLabels) {
    left.selectAll(".tick text").each(function (d) {
      const t = d3.select(this);
      t.text("10");
      t.append("tspan").attr("dy", "-0.55em").attr("font-size", "14px").text(Math.round(Math.log10(d)));
    });
  }
  g.append("rect").attr("width", W).attr("height", h)
    .attr("fill", "none").attr("stroke", AX).attr("stroke-width", 1.2);
}

function drawErrorBars(plot, err, y, barColor, barWidth, capColor, capWidth) {
  plot.append("g").selectAll("line").data(err).join("line")
    .attr("x1", d => x(d[0])).attr("x2", d => x(d[0]))
    .attr("y1", d => y(d[1])).attr("y2", d => y(d[2]))
    .attr("stroke", barColor).attr("stroke-width", barWidth);
  const caps = plot.append("g");
  caps.selectAll("line.lo").data(err).join("line").attr("class", "lo")
    .attr("x1", d => x(d[0]) - capWidth / 2).attr("x2", d => x(d[0]) + capWidth / 2)
    .attr("y1", d => y(d[1])).attr("y2", d => y(d[1]))
    .attr("stroke", capColor).attr("stroke-width", 0.9);
  caps.selectAll("line.hi").data(err).join("line").attr("class", "hi")
    .attr("x1", d => x(d[0]) - capWidth / 2).attr("x2", d => x(d[0]) + capWidth / 2)
    .attr("y1", d => y(d[2])).attr("y2", d => y(d[2]))
    .attr("stroke", capColor).attr("stroke-width", 0.9);
}

// ---------- row 1 ----------
const intensitySeries = [intensity5W, intensity15W, intensity20W, intensity30W];
intensitySeries.forEach((series, c) => {
  const p = makePanel(0, c);
  const y = d3.scaleLinear().domain([0, intensityMax[c]]).range([p.h, 0]);
  p.plot.append("path").datum(series)
    .attr("d", d3.line().x(d => x(d[0])).y(d => y(d[1])))
    .attr("fill", "none").attr("stroke", "#111").attr("stroke-width", 1.3).attr("stroke-linejoin", "round");
  drawAxes(p, y, intensityTicks[c], intensityMinor[c], d3.format("d"), false);
});

// ---------- row 2 ----------
const teSeries = [te5W, te15W, te20W, te30W];
const teErrors = [te5WErr, te15WErr, te20WErr, te30WErr];
teSeries.forEach((series, c) => {
  const p = makePanel(1, c);
  const y = d3.scaleLinear().domain([1.255, 3.245]).range([p.h, 0]);
  drawErrorBars(p.plot, teErrors[c], y, "#e3e3e3", 3.4, "#b4b4b4", 4.5);
  p.plot.append("path").datum(series)
    .attr("d", d3.line().x(d => x(d[0])).y(d => y(d[1])))
    .attr("fill", "none").attr("stroke", "#111").attr("stroke-width", 2.3).attr("stroke-linejoin", "round");
  drawAxes(p, y, teTicks, teMinor, d3.format(".1f"), false);
});

// ---------- row 3 ----------
const nuSeries = [nu5W, nu15W, nu20W, nu30W];
const nuErrors = [nu5WErr, nu15WErr, nu20WErr, nu30WErr];
nuSeries.forEach((series, c) => {
  const p = makePanel(2, c);
  const y = d3.scaleLog().domain([2050, 1e6]).range([p.h, 0]);
  drawErrorBars(p.plot, nuErrors[c], y, "#d6d6d6", 3.0, "#555", 4.5);
  p.plot.append("path").datum(series)
    .attr("d", d3.line().curve(d3.curveStepAfter).x(d => x(d[0])).y(d => y(d[1])))
    .attr("fill", "none").attr("stroke", "#111").attr("stroke-width", 1.9);
  drawAxes(p, y, nuTicks, nuMinor, () => "", true);
});

// ---------- column titles ----------
powerTitles.forEach((t, c) => {
  const cx = colX[c] + W / 2;
  svg.append("text").attr("x", cx).attr("y", 31).attr("text-anchor", "middle")
    .attr("font-size", "24px").text(t);
  const v = svg.append("text").attr("x", cx).attr("y", 63).attr("text-anchor", "middle")
    .attr("font-size", "24px");
  v.append("tspan").text("V");
  v.append("tspan").attr("font-size", "15px").attr("dy", "7").text("dc");
  v.append("tspan").attr("dy", "-7").text(vdcTitles[c]);
});

// ---------- row labels ----------
function rotatedLabel(xPos, yPos, size) {
  return svg.append("text").attr("transform", `translate(${xPos},${yPos}) rotate(-90)`)
    .attr("text-anchor", "middle").attr("font-weight", "bold").attr("font-size", size);
}
rotatedLabel(38, 161, "28px").text("Hg scat. intensity");
const l2 = rotatedLabel(68, 172, "27px");
l2.append("tspan").text("(546.2 nm, 10");
l2.append("tspan").attr("font-size", "16px").attr("dy", "-10").text("3");
l2.append("tspan").attr("dy", "10").text(" counts)");

const teLab = rotatedLabel(38, 470, "24px");
teLab.append("tspan").text("T");
teLab.append("tspan").attr("font-size", "15px").attr("dy", "6").text("e");
teLab.append("tspan").attr("dy", "-6").text(" (eV)");

const nuLab = rotatedLabel(44, 746, "22px");
nuLab.append("tspan").text("\u03bd");
nuLab.append("tspan").attr("font-size", "15px").attr("dy", "6").text("quenching");
nuLab.append("tspan").attr("dy", "-6").text(" (Hz)");

// ---------- x-axis titles ----------
colX.forEach(cx => {
  svg.append("text").attr("x", cx + W / 2).attr("y", 909).attr("text-anchor", "middle")
    .attr("font-weight", "bold").attr("font-size", "25px").text("Time (s)");
});
</script>
</body>
</html>
